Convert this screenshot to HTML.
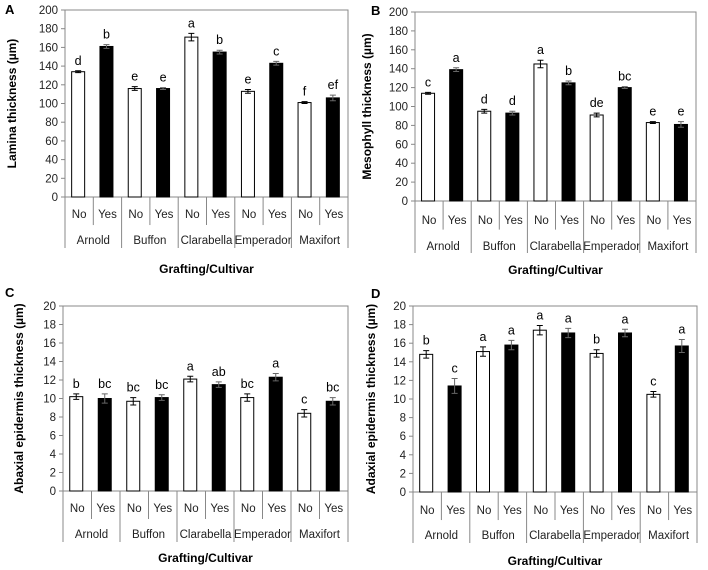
<!DOCTYPE html>
<html><head><meta charset="utf-8">
<style>
html,body{margin:0;padding:0;background:#fff;}
svg{display:block;font-family:"Liberation Sans",sans-serif;}
</style></head>
<body>
<svg id="chart" width="708" height="570" viewBox="0 0 708 570" xmlns="http://www.w3.org/2000/svg"></svg>
<script>
const cultivars = ["Arnold","Buffon","Clarabella","Emperador","Maxifort"];
const graftLabels = ["No","Yes"];
const aNo = [134,116,171,113,101];
const aYes = [161,116,155,143,106];
const aErrNo = [1,2,4,2,1];
const aErrYes = [2,1,2,2,3];
const aLetNo = ["d","e","a","e","f"];
const aLetYes = ["b","e","b","c","ef"];
const aTicks = [0,20,40,60,80,100,120,140,160,180,200];
const bNo = [114,95,145,91,83];
const bYes = [139,93,125,120,81];
const bErrNo = [1,2,4,2,1];
const bErrYes = [2,2,2,1,3];
const bLetNo = ["c","d","a","de","e"];
const bLetYes = ["a","d","b","bc","e"];
const bTicks = [0,20,40,60,80,100,120,140,160,180,200];
const cNo = [10.2,9.7,12.1,10.1,8.4];
const cYes = [10.0,10.1,11.5,12.3,9.7];
const cErrNo = [0.3,0.4,0.3,0.4,0.4];
const cErrYes = [0.5,0.3,0.3,0.4,0.4];
const cLetNo = ["b","bc","a","bc","c"];
const cLetYes = ["bc","bc","ab","a","bc"];
const cTicks = [0,2,4,6,8,10,12,14,16,18,20];
const dNo = [14.8,15.1,17.4,14.9,10.5];
const dYes = [11.4,15.8,17.1,17.1,15.7];
const dErrNo = [0.4,0.5,0.5,0.4,0.3];
const dErrYes = [0.8,0.5,0.5,0.4,0.7];
const dLetNo = ["b","a","a","b","c"];
const dLetYes = ["c","a","a","a","a"];
const dTicks = [0,2,4,6,8,10,12,14,16,18,20];

const NS="http://www.w3.org/2000/svg";
const svg=document.getElementById('chart');
function mk(tag,attrs,parent,text){
  const e=document.createElementNS(NS,tag);
  for(const k in attrs)e.setAttribute(k,attrs[k]);
  if(text!==undefined)e.textContent=text;
  (parent||svg).appendChild(e);return e;
}
function panel(id,letter,geo,ytitle,no,yes,eNo,eYes,lNo,lYes,ticks){
  const g=mk('g',{});
  
  
  const ymax=ticks[ticks.length-1];
  const y=v=>geo.y0-(v/ymax)*(geo.y0-geo.top);
  const slot=(geo.right-geo.left)/10;
  const x=(i,k)=>geo.left+slot*(i*2+k)+slot/2;
  const pl=mk('text',{x:geo.lx,y:geo.ly,'font-size':13,'font-weight':'bold'},g,letter);
  
  
  // frame
  const fr=mk('rect',{x:geo.left,y:geo.top,width:geo.right-geo.left,height:geo.y0-geo.top,fill:'none',stroke:'#888','stroke-width':1},g);
  
  
  ticks.forEach(t=>{
    mk('line',{x1:geo.left-4,x2:geo.left,y1:y(t),y2:y(t),stroke:'#888'},g);
    const tl=mk('text',{x:geo.left-7,y:y(t)+4,'font-size':11.5,'text-anchor':'end',fill:'#222'},g,t);
    
    
  });
  const yt=mk('text',{x:0,y:0,'font-size':12,'font-weight':'bold','text-anchor':'middle',transform:`translate(${geo.tx},${(geo.top+geo.y0)/2}) rotate(-90)`},g,ytitle);
  
  
  const bw=13;
  const series=[[no,eNo,lNo,'#fff'],[yes,eYes,lYes,'#000']];
  for(let i=0;i<5;i++){
    for(let k=0;k<2;k++){
      const [vals,errs,lets,fill]=series[k];
      const cx=x(i,k)-1, v=vals[i], e=errs[i];
      const b=mk('rect',{x:cx-bw/2,y:y(v),width:bw,height:geo.y0-y(v),fill:fill,stroke:'#000','stroke-width':1},g);
      
      
      const eb=mk('path',{d:`M${cx-3},${y(v+e)}H${cx+3}M${cx},${y(v+e)}V${y(v-e)}M${cx-3},${y(v-e)}H${cx+3}`,stroke:k?'#666':'#000','stroke-width':1,fill:'none'},g);
      
      
      const lt=mk('text',{x:cx,y:y(v+e)-6,'font-size':12.5,'text-anchor':'middle'},g,lets[i]);
      
      
      const gl=mk('text',{x:x(i,k),y:geo.r1,'font-size':11.5,'text-anchor':'middle',fill:'#222'},g,graftLabels[k]);
      
      
    }
    const cl=mk('text',{x:geo.left+slot*(2*i+1),y:geo.r2,'font-size':11.5,'text-anchor':'middle',fill:'#222'},g,cultivars[i]);
    
    
  }
  for(let j=0;j<=10;j++){
    const xx=geo.left+slot*j;
    const bottom=(j%2===0)?geo.sep:geo.y0+(geo.sep-geo.y0)*0.55;
    mk('line',{x1:xx,x2:xx,y1:geo.y0,y2:bottom,stroke:'#888'},g);
  }
  const xt=mk('text',{x:(geo.left+geo.right)/2,y:geo.xt,'font-size':12,'font-weight':'bold','text-anchor':'middle'},g,'Grafting/Cultivar');
  
  
}
panel('a','A',{left:65,right:348,top:10,y0:197,r1:218,r2:244,sep:248,xt:273,lx:5,ly:14,tx:16},'Lamina thickness (µm)',aNo,aYes,aErrNo,aErrYes,aLetNo,aLetYes,aTicks);
panel('b','B',{left:415,right:696,top:12,y0:201,r1:224,r2:250,sep:253,xt:274,lx:371,ly:15,tx:371},'Mesophyll thickness (µm)',bNo,bYes,bErrNo,bErrYes,bLetNo,bLetYes,bTicks);
panel('c','C',{left:63,right:348,top:306,y0:491,r1:512,r2:538,sep:542,xt:562,lx:5,ly:297,tx:23},'Abaxial epidermis thickness (µm)',cNo,cYes,cErrNo,cErrYes,cLetNo,cLetYes,cTicks);
panel('d','D',{left:413,right:697,top:306,y0:492,r1:514,r2:539,sep:543,xt:565,lx:371,ly:298,tx:375},'Adaxial epidermis  thickness (µm)',dNo,dYes,dErrNo,dErrYes,dLetNo,dLetYes,dTicks);
</script>
</body></html>
